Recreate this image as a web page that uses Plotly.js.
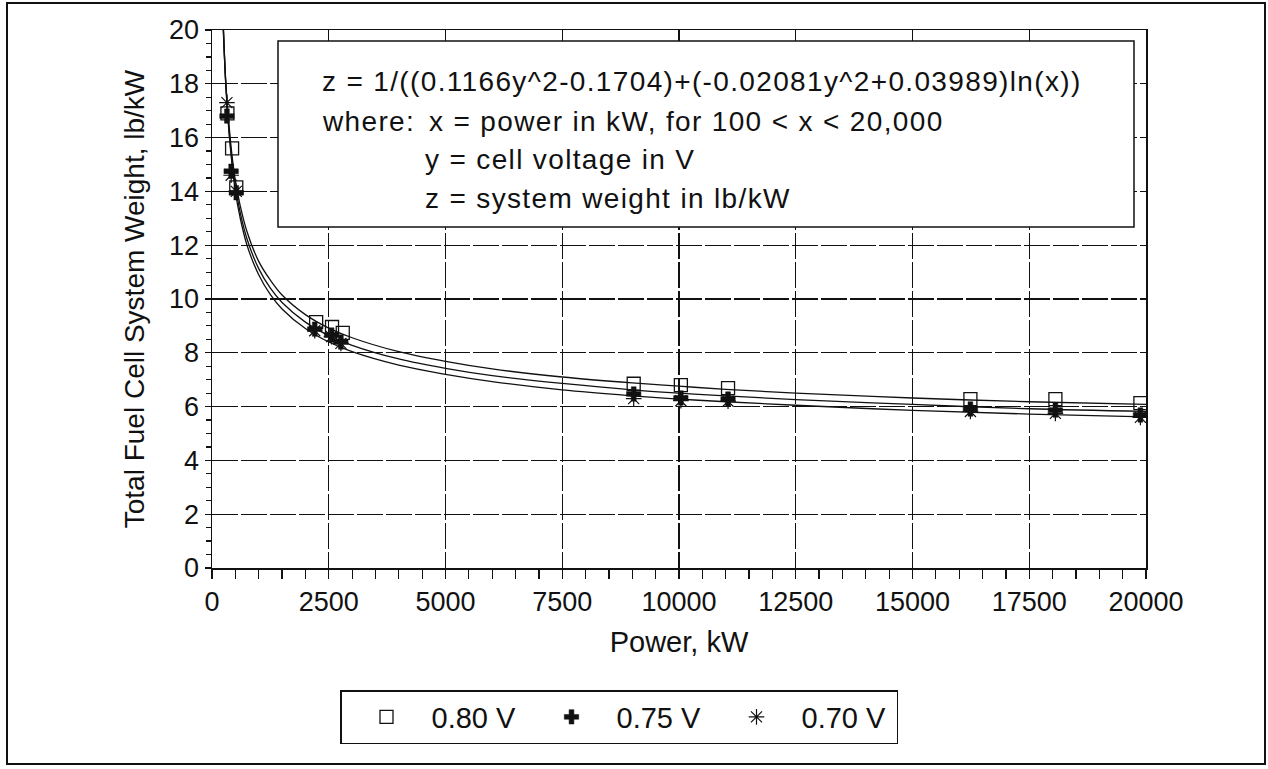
<!DOCTYPE html>
<html>
<head>
<meta charset="utf-8">
<script src="https://cdn.plot.ly/plotly-3.0.1.min.js"></script>
<style>
  html, body { margin: 0; padding: 0; background: #fff; }
  #chart { width: 1268px; height: 769px; }
  .annotation-text { letter-spacing: 1.35px; }
</style>
</head>
<body>
<div id="chart"></div>
<script>
// ---- Data ----
// Fitted curves (Power kW -> lb/kW)
const curveX = [220, 300, 400, 500, 600, 750, 1000, 1250, 1500, 2000, 2500, 3000, 4000, 5000, 6000, 7500, 9000, 10000, 11000, 12500, 15000, 17500, 20000];
const curve080 = [21.0, 17.9, 15.8, 14.4, 13.5, 12.5, 11.4, 10.7, 10.15, 9.42, 8.92, 8.56, 8.04, 7.68, 7.40, 7.10, 6.88, 6.76, 6.64, 6.50, 6.32, 6.18, 6.08];
const curve075 = [21.2, 17.9, 15.6, 14.2, 13.25, 12.23, 11.13, 10.4, 9.87, 9.14, 8.64, 8.28, 7.77, 7.42, 7.15, 6.86, 6.62, 6.50, 6.40, 6.26, 6.08, 5.92, 5.82];
const curve070 = [21.3, 17.8, 15.5, 14.0, 13.04, 12.0, 10.9, 10.16, 9.63, 8.90, 8.40, 8.04, 7.54, 7.20, 6.93, 6.62, 6.40, 6.28, 6.18, 6.05, 5.86, 5.72, 5.62];

// Data points
const pts080X = [330, 430, 520, 2230, 2570, 2800, 9030, 10040, 11050, 16240, 18060, 19880];
const pts080Y = [16.9, 15.6, 14.15, 9.14, 8.96, 8.74, 6.85, 6.80, 6.69, 6.28, 6.28, 6.13];
const pts075X = [320, 410, 520, 2200, 2560, 2760, 9030, 10040, 11050, 16240, 18060, 19880];
const pts075Y = [16.8, 14.75, 13.95, 8.88, 8.66, 8.40, 6.47, 6.32, 6.28, 5.91, 5.87, 5.69];
const pts070X = [320, 410, 520, 2200, 2560, 2760, 9030, 10040, 11050, 16240, 18060, 19880];
const pts070Y = [17.3, 14.6, 14.0, 8.82, 8.60, 8.35, 6.30, 6.22, 6.20, 5.82, 5.75, 5.60];

const seriesNames = ['0.80 V', '0.75 V', '0.70 V'];
const xTitle = 'Power, kW';
const yTitle = 'Total Fuel Cell System Weight, lb/kW';
const eqLines = [
  'z = 1/((0.1166y^2-0.1704)+(-0.02081y^2+0.03989)ln(x))',
  'where:',
  'x = power in kW, for 100 &lt; x &lt; 20,000',
  'y = cell voltage in V',
  'z = system weight in lb/kW'
];

// ---- Layout helpers (pixel -> paper) ----
const W = 1268, H = 769;
const L = 212, R = 1146, T = 30, B = 568;
const px = v => (v - L) / (R - L);
const py = v => (B - v) / (B - T);
const FONT = 'Liberation Sans, Arial, Helvetica, sans-serif';
const INK = '#111';

function lineTrace(y) {
  return { x: curveX, y: y, type: 'scatter', mode: 'lines', showlegend: false,
    hoverinfo: 'skip', line: { color: INK, width: 1.3, shape: 'spline' } };
}

const traces = [
  lineTrace(curve080), lineTrace(curve075), lineTrace(curve070),
  { x: pts080X, y: pts080Y, name: seriesNames[0], type: 'scatter', mode: 'markers',
    marker: { symbol: 'square-open', size: 13, color: INK, line: { color: INK, width: 1.3 } } },
  { x: pts075X, y: pts075Y, name: seriesNames[1], type: 'scatter', mode: 'markers',
    marker: { symbol: 'cross', size: 12, color: INK, line: { color: INK, width: 0.5 } } },
  { x: pts070X, y: pts070Y, name: seriesNames[2], type: 'scatter', mode: 'markers',
    marker: { symbol: 'asterisk-open', size: 13, color: INK, line: { color: INK, width: 1.2 } } }
];

function eqAnn(text, xPix, yPix) {
  return { text: text, xref: 'paper', yref: 'paper', x: px(xPix), y: py(yPix),
    xanchor: 'left', yanchor: 'middle', showarrow: false,
    font: { family: FONT, size: 28, color: INK } };
}

const layout = {
  width: W, height: H,
  margin: { l: L, r: W - R, t: T, b: H - B, pad: 0 },
  paper_bgcolor: '#fff', plot_bgcolor: '#fff',
  font: { family: FONT, color: INK },
  showlegend: true,
  legend: {
    orientation: 'h', x: px(619), y: py(717), xanchor: 'center', yanchor: 'middle',
    font: { family: FONT, size: 29, color: INK },
    bordercolor: INK, borderwidth: 1.5, bgcolor: '#fff',
    entrywidth: 90, itemwidth: 80
  },
  xaxis: {
    range: [0, 20000], tick0: 0, dtick: 2500, autorange: false, tickformat: 'd',
    showline: true, mirror: true, linecolor: INK, linewidth: 1.5,
    ticks: 'outside', ticklen: 9, tickwidth: 1.2, tickcolor: INK,
    minor: { dtick: 500, ticks: 'outside', ticklen: 9, tickwidth: 1.2, tickcolor: INK, showgrid: false },
    showgrid: true, gridcolor: INK, gridwidth: 1.2, griddash: '26px,3px',
    zeroline: false,
    tickfont: { family: FONT, size: 27, color: INK },
    title: { text: xTitle, font: { family: FONT, size: 29, color: INK }, standoff: 16 }
  },
  yaxis: {
    range: [0, 20], tick0: 0, dtick: 2, autorange: false,
    showline: true, mirror: true, linecolor: INK, linewidth: 1.5,
    ticks: 'outside', ticklen: 6, tickwidth: 1.2, tickcolor: INK,
    minor: { dtick: 0.5, ticks: 'outside', ticklen: 5, tickwidth: 1.2, tickcolor: INK, showgrid: false },
    showgrid: true, gridcolor: INK, gridwidth: 1.2, griddash: '26px,3px',
    zeroline: false,
    tickfont: { family: FONT, size: 27, color: INK },
    title: { text: yTitle, font: { family: FONT, size: 28, color: INK }, standoff: 16 }
  },
  shapes: [
    // equation box
    { type: 'rect', xref: 'paper', yref: 'paper', layer: 'above',
      x0: px(278), x1: px(1134), y0: py(227), y1: py(41),
      fillcolor: '#fff', line: { color: INK, width: 1.5 } },
    // outer frame
    { type: 'rect', xref: 'paper', yref: 'paper', layer: 'above',
      x0: px(7), x1: px(1265), y0: py(764), y1: py(3),
      fillcolor: 'rgba(0,0,0,0)', line: { color: INK, width: 2 } }
  ],
  annotations: [
    eqAnn(eqLines[0], 320, 82),
    eqAnn(eqLines[1], 320, 121),
    eqAnn(eqLines[2], 427, 121),
    eqAnn(eqLines[3], 423, 159),
    eqAnn(eqLines[4], 423, 198)
  ]
};

Plotly.newPlot('chart', traces, layout, { staticPlot: true, displayModeBar: false });
</script>
</body>
</html>
